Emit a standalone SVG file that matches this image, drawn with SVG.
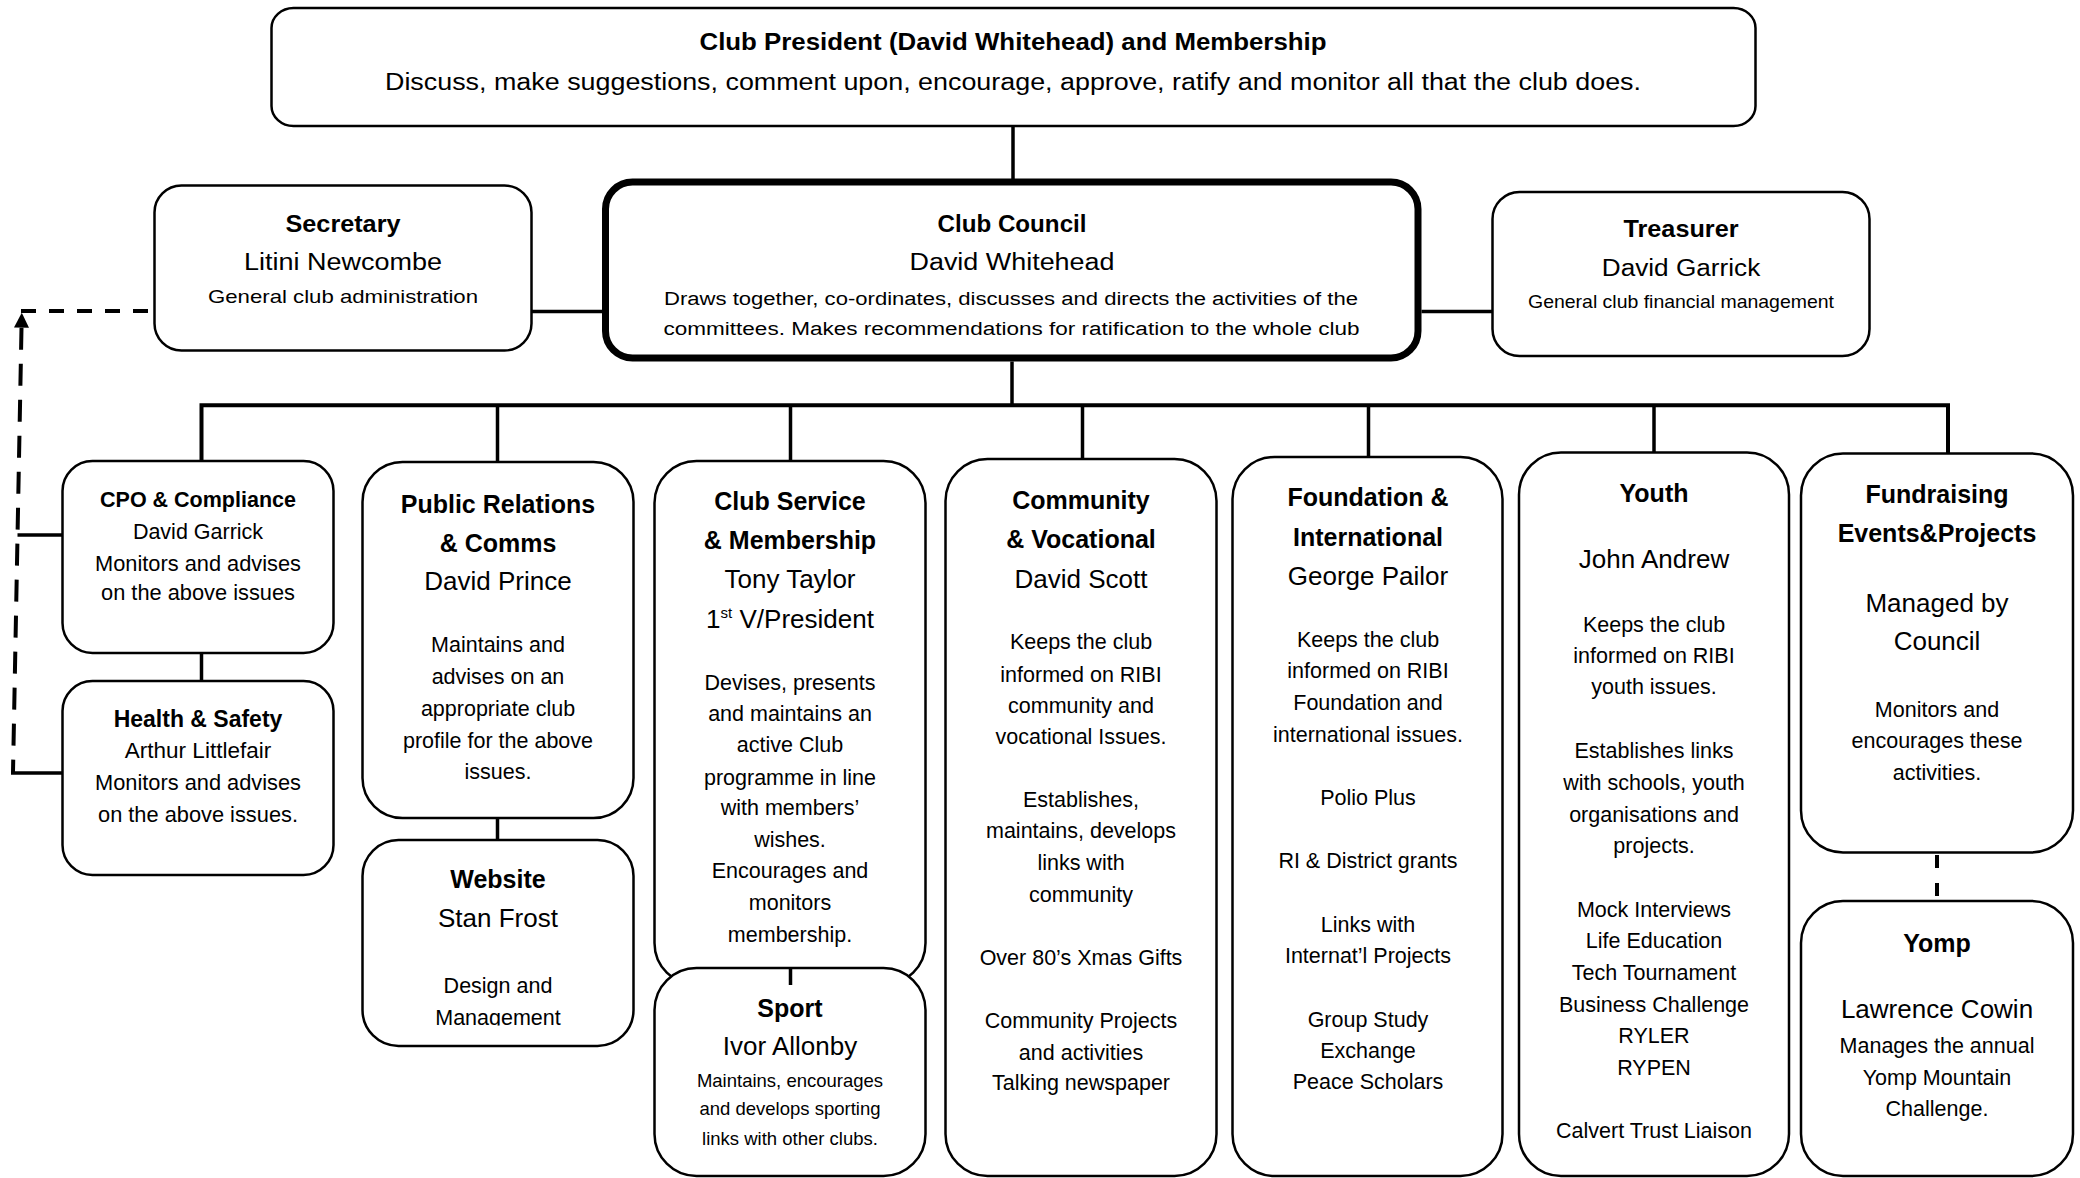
<svg xmlns="http://www.w3.org/2000/svg" width="2080" height="1178" viewBox="0 0 2080 1178">
<defs>
<style>
.box{fill:#fff;stroke:#000;stroke-width:2.5}
.thick{fill:#fff;stroke:#000;stroke-width:7}
.ln{stroke:#000;stroke-width:3.5;fill:none}
.dh{stroke:#000;stroke-width:4;fill:none;stroke-dasharray:15 13}
.dv{stroke:#000;stroke-width:4;fill:none;stroke-dasharray:22 14}
text{font-family:"Liberation Sans",Arial,sans-serif;text-anchor:middle;fill:#000}
.b{font-weight:bold}
.h{font-size:25px;font-weight:bold}
.n{font-size:26px}
.d{font-size:21.5px}
</style>
<marker id="arr" viewBox="0 0 15 15" markerWidth="15" markerHeight="15" refX="0" refY="7.5" orient="auto-start-reverse" markerUnits="userSpaceOnUse">
<path d="M0,0 L15,7.5 L0,15 z" fill="#000"/>
</marker>
<clipPath id="webclip"><rect x="362" y="840" width="272" height="185.5"/></clipPath>
</defs>
<rect width="2080" height="1178" fill="#fff"/>

<g id="president">
<rect class="box" x="271.5" y="8" width="1484" height="118" rx="22" ry="20"/>
<text x="1013" y="50" class="b" font-size="23" textLength="627" lengthAdjust="spacingAndGlyphs">Club President (David Whitehead) and Membership</text>
<text x="1013" y="89.5" font-size="23" textLength="1256" lengthAdjust="spacingAndGlyphs">Discuss, make suggestions, comment upon, encourage, approve, ratify and monitor all that the club does.</text>
</g>

<g id="secretary">
<rect class="box" x="154.5" y="185.5" width="377" height="165" rx="27"/>
<text x="343" y="231.7" class="b" font-size="24" textLength="115" lengthAdjust="spacingAndGlyphs">Secretary</text>
<text x="343" y="270" font-size="23.5" textLength="198" lengthAdjust="spacingAndGlyphs">Litini Newcombe</text>
<text x="343" y="303" font-size="18.5" textLength="270" lengthAdjust="spacingAndGlyphs">General club administration</text>
</g>

<g id="council">
<rect class="thick" x="605.5" y="182" width="812.5" height="176" rx="27"/>
<text x="1012" y="232" class="b" font-size="24" textLength="149" lengthAdjust="spacingAndGlyphs">Club Council</text>
<text x="1012" y="270" font-size="23.5" textLength="205" lengthAdjust="spacingAndGlyphs">David Whitehead</text>
<text x="1011" y="305" font-size="18" textLength="694" lengthAdjust="spacingAndGlyphs">Draws together, co-ordinates, discusses and directs the activities of the</text>
<text x="1011.5" y="335" font-size="18" textLength="696" lengthAdjust="spacingAndGlyphs">committees. Makes recommendations for ratification to the whole club</text>
</g>

<g id="treasurer">
<rect class="box" x="1492.5" y="192" width="377" height="164" rx="27"/>
<text x="1681" y="237.3" class="b" font-size="24" textLength="115" lengthAdjust="spacingAndGlyphs">Treasurer</text>
<text x="1681" y="276" font-size="23.5" textLength="158.5" lengthAdjust="spacingAndGlyphs">David Garrick</text>
<text x="1681" y="307.5" font-size="18.5" textLength="306" lengthAdjust="spacingAndGlyphs">General club financial management</text>
</g>

<g id="cpo">
<rect class="box" x="62.5" y="461" width="271" height="192" rx="30"/>
<text x="198" y="506.5" class="b" font-size="21.5">CPO &amp; Compliance</text>
<text x="198" y="539" font-size="21.5">David Garrick</text>
<text x="198" y="570.5" font-size="21.8">Monitors and advises</text>
<text x="198" y="600" font-size="21.8">on the above issues</text>
</g>

<g id="health-safety">
<rect class="box" x="62.5" y="681" width="271" height="194" rx="30"/>
<text x="198" y="726.5" class="b" font-size="23">Health &amp; Safety</text>
<text x="198" y="758.3" font-size="22.5">Arthur Littlefair</text>
<text x="198" y="790" font-size="21.8">Monitors and advises</text>
<text x="198" y="821.7" font-size="21.8">on the above issues.</text>
</g>

<g id="public-relations">
<rect class="box" x="362.5" y="462" width="271" height="356" rx="40"/>
<text x="498" y="512.7" class="h">Public Relations</text>
<text x="498" y="551.7" class="h">&amp; Comms</text>
<text x="498" y="590" class="n">David Prince</text>
<text x="498" y="652" class="d">Maintains and</text>
<text x="498" y="684" class="d">advises on an</text>
<text x="498" y="716" class="d">appropriate club</text>
<text x="498" y="748" class="d">profile for the above</text>
<text x="498" y="779" class="d">issues.</text>
</g>

<g id="website">
<rect class="box" x="362.5" y="840" width="271" height="206" rx="36"/>
<text x="498" y="888" class="h">Website</text>
<text x="498" y="926.7" class="n">Stan Frost</text>
<text x="498" y="992.7" class="d">Design and</text>
<text x="498" y="1024.5" class="d" clip-path="url(#webclip)">Management</text>
</g>

<g id="club-service">
<rect class="box" x="654.5" y="461" width="271" height="524" rx="42"/>
<text x="790" y="510" class="h">Club Service</text>
<text x="790" y="549.3" class="h">&amp; Membership</text>
<text x="790" y="588.3" class="n">Tony Taylor</text>
<text x="790" y="627.7" class="n">1<tspan font-size="15" dy="-10">st</tspan><tspan dy="10"> V/President</tspan></text>
<text x="790" y="690" class="d">Devises, presents</text>
<text x="790" y="720.7" class="d">and maintains an</text>
<text x="790" y="752.3" class="d">active Club</text>
<text x="790" y="785" class="d">programme in line</text>
<text x="790" y="815" class="d">with members’</text>
<text x="790" y="846.7" class="d">wishes.</text>
<text x="790" y="878.3" class="d">Encourages and</text>
<text x="790" y="910" class="d">monitors</text>
<text x="790" y="941.7" class="d">membership.</text>
</g>

<g id="sport">
<rect class="box" x="654.5" y="968" width="271" height="208" rx="42"/>
<text x="790" y="1016.7" class="h">Sport</text>
<text x="790" y="1055" class="n" font-size="27">Ivor Allonby</text>
<text x="790" y="1086.7" font-size="18.5">Maintains, encourages</text>
<text x="790" y="1115" font-size="18.5">and develops sporting</text>
<text x="790" y="1145" font-size="18.5">links with other clubs.</text>
</g>

<g id="community">
<rect class="box" x="945.5" y="459" width="271" height="717" rx="42"/>
<text x="1081" y="509.3" class="h">Community</text>
<text x="1081" y="548.3" class="h">&amp; Vocational</text>
<text x="1081" y="587.7" class="n">David Scott</text>
<text x="1081" y="649.3" class="d">Keeps the club</text>
<text x="1081" y="681.7" class="d">informed on RIBI</text>
<text x="1081" y="713.3" class="d">community and</text>
<text x="1081" y="744.3" class="d">vocational Issues.</text>
<text x="1081" y="806.7" class="d">Establishes,</text>
<text x="1081" y="838.3" class="d">maintains, develops</text>
<text x="1081" y="870" class="d">links with</text>
<text x="1081" y="901.7" class="d">community</text>
<text x="1081" y="965" class="d">Over 80’s Xmas Gifts</text>
<text x="1081" y="1028.3" class="d">Community Projects</text>
<text x="1081" y="1060" class="d">and activities</text>
<text x="1081" y="1090" class="d">Talking newspaper</text>
</g>

<g id="foundation">
<rect class="box" x="1232.5" y="457" width="270" height="719" rx="42"/>
<text x="1368" y="506" class="h">Foundation &amp;</text>
<text x="1368" y="546" class="h">International</text>
<text x="1368" y="585" class="n">George Pailor</text>
<text x="1368" y="647.3" class="d">Keeps the club</text>
<text x="1368" y="678.3" class="d">informed on RIBI</text>
<text x="1368" y="710" class="d">Foundation and</text>
<text x="1368" y="741.7" class="d">international issues.</text>
<text x="1368" y="805" class="d">Polio Plus</text>
<text x="1368" y="868.3" class="d">RI &amp; District grants</text>
<text x="1368" y="931.7" class="d">Links with</text>
<text x="1368" y="963.3" class="d">Internat’l Projects</text>
<text x="1368" y="1026.7" class="d">Group Study</text>
<text x="1368" y="1058.3" class="d">Exchange</text>
<text x="1368" y="1089.3" class="d">Peace Scholars</text>
</g>

<g id="youth">
<rect class="box" x="1519" y="452.5" width="270" height="723.5" rx="42"/>
<text x="1654" y="501.7" class="h">Youth</text>
<text x="1654" y="568.3" class="n">John Andrew</text>
<text x="1654" y="631.7" class="d">Keeps the club</text>
<text x="1654" y="663.3" class="d">informed on RIBI</text>
<text x="1654" y="694" class="d">youth issues.</text>
<text x="1654" y="758.3" class="d">Establishes links</text>
<text x="1654" y="790" class="d">with schools, youth</text>
<text x="1654" y="821.7" class="d">organisations and</text>
<text x="1654" y="853.3" class="d">projects.</text>
<text x="1654" y="916.7" class="d">Mock Interviews</text>
<text x="1654" y="948.3" class="d">Life Education</text>
<text x="1654" y="980" class="d">Tech Tournament</text>
<text x="1654" y="1011.7" class="d">Business Challenge</text>
<text x="1654" y="1043.3" class="d">RYLER</text>
<text x="1654" y="1075" class="d">RYPEN</text>
<text x="1654" y="1138.3" class="d">Calvert Trust Liaison</text>
</g>

<g id="fundraising">
<rect class="box" x="1801" y="453.5" width="272" height="399" rx="42"/>
<text x="1937" y="503.3" class="h">Fundraising</text>
<text x="1937" y="541.7" class="h">Events&amp;Projects</text>
<text x="1937" y="611.7" class="n" font-size="26.5">Managed by</text>
<text x="1937" y="650" class="n">Council</text>
<text x="1937" y="716.7" class="d">Monitors and</text>
<text x="1937" y="748.3" class="d">encourages these</text>
<text x="1937" y="780" class="d">activities.</text>
</g>

<g id="yomp">
<rect class="box" x="1801" y="901" width="272" height="275" rx="42"/>
<text x="1937" y="951.7" class="h">Yomp</text>
<text x="1937" y="1018.3" class="n">Lawrence Cowin</text>
<text x="1937" y="1053.3" class="d" font-size="21.7">Manages the annual</text>
<text x="1937" y="1085" class="d">Yomp Mountain</text>
<text x="1937" y="1116" class="d">Challenge.</text>
</g>

<g id="connectors">
<line class="ln" x1="1013" y1="126" x2="1013" y2="179"/>
<line class="ln" x1="531.5" y1="311.5" x2="602" y2="311.5"/>
<line class="ln" x1="1421.5" y1="311.5" x2="1492.5" y2="311.5"/>
<line class="ln" x1="1012" y1="361.5" x2="1012" y2="405"/>
<polyline fill="none" stroke="#000" stroke-width="4" points="201.5,461 201.5,405.3 1948,405.3 1948,453.5"/>
<line class="ln" x1="497.5" y1="405" x2="497.5" y2="462"/>
<line class="ln" x1="790.5" y1="405" x2="790.5" y2="461"/>
<line class="ln" x1="1082.5" y1="405" x2="1082.5" y2="459"/>
<line class="ln" x1="1368.5" y1="405" x2="1368.5" y2="457"/>
<line class="ln" x1="1654" y1="405" x2="1654" y2="452.5"/>
<line class="ln" x1="201.5" y1="653" x2="201.5" y2="681"/>
<line class="ln" x1="497.5" y1="818" x2="497.5" y2="840"/>
<line class="ln" x1="790.5" y1="968" x2="790.5" y2="985"/>
<line class="dh" x1="1937" y1="855" x2="1937" y2="900" style="stroke-dasharray:13 15"/>
<line class="dh" x1="21" y1="311" x2="153" y2="311"/>
<line class="dv" x1="21.5" y1="327.7" x2="13" y2="772" marker-start="url(#arr)"/>
<line class="ln" x1="17.5" y1="535" x2="62.5" y2="535"/>
<line class="ln" x1="11" y1="773" x2="62.5" y2="773"/>
</g>
</svg>
